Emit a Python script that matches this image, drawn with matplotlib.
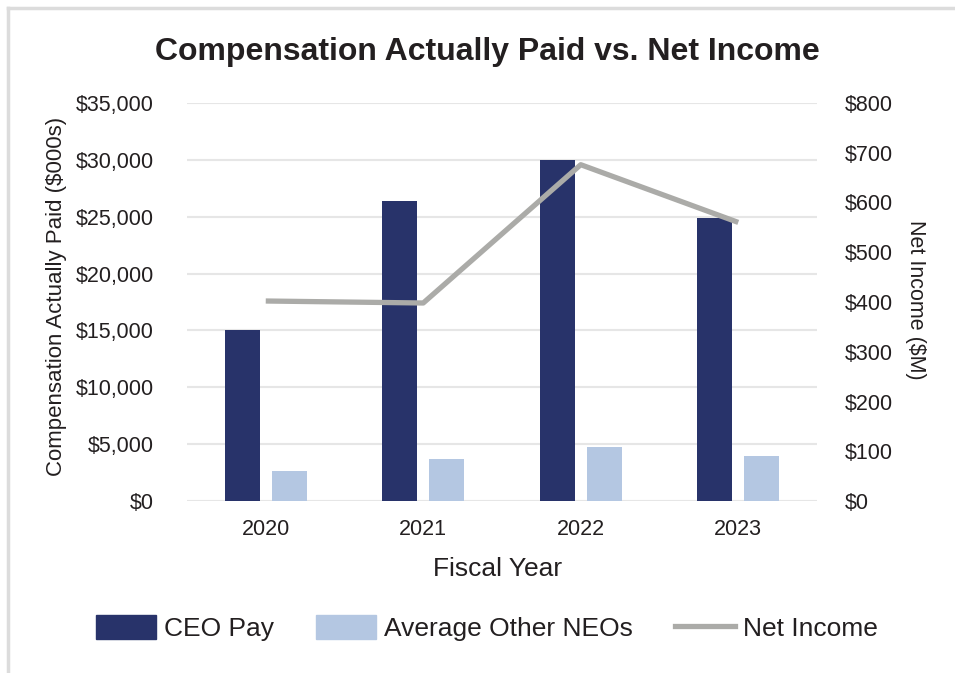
import numpy as np
import matplotlib.pyplot as plt
from matplotlib.patches import Rectangle
from matplotlib.lines import Line2D
from matplotlib.ticker import FuncFormatter

plt.rcParams['font.family'] = ['Liberation Sans', 'DejaVu Sans']

# Data
years = ["2020", "2021", "2022", "2023"]
ceo_pay = [15000, 26400, 30000, 24850]        # $000s
other_neos = [2650, 3650, 4750, 4000]         # $000s
net_income = [402, 398, 676, 560]             # $M

dark = "#28336A"
light = "#B4C7E2"
grey = "#ABABA8"
txt = "#231F20"

W, H = 955, 673
fig = plt.figure(figsize=(W / 100, H / 100), dpi=100)

# light grey frame (top and left edges only)
fig.add_artist(Line2D([8 / W, 8 / W], [0, 1 - 8 / H], transform=fig.transFigure,
                      color="#DCDCDC", linewidth=2.5))
fig.add_artist(Line2D([8 / W, 1], [1 - 8 / H, 1 - 8 / H], transform=fig.transFigure,
                      color="#DCDCDC", linewidth=2.5))

ax = fig.add_axes([187 / W, 1 - 501 / H, 630 / W, 398 / H])
x = np.arange(len(years))
w = 0.222
ax.bar(x - 0.149, ceo_pay, w, color=dark, zorder=3)
ax.bar(x + 0.149, other_neos, w, color=light, zorder=3)
ax.set_xlim(-0.5, 3.5)
ax.set_ylim(0, 35000)
ax.set_yticks(np.arange(0, 35001, 5000))
ax.yaxis.set_major_formatter(FuncFormatter(lambda v, p: "${:,.0f}".format(v)))
ax.set_xticks(x)
ax.set_xticklabels(years)
ax.grid(axis="y", color="#E6E6E6", linewidth=1.5, zorder=0)
for s in ax.spines.values():
    s.set_visible(False)
ax.tick_params(length=0, labelsize=15.5, colors=txt)
ax.tick_params(axis="y", pad=24)
ax.tick_params(axis="x", pad=13)

ax2 = ax.twinx()
ax2.plot(x, net_income, color=grey, linewidth=3.8, zorder=4, solid_capstyle="butt")
ax2.set_ylim(0, 800)
ax2.set_yticks(np.arange(0, 801, 100))
ax2.yaxis.set_major_formatter(FuncFormatter(lambda v, p: "${:,.0f}".format(v)))
for s in ax2.spines.values():
    s.set_visible(False)
ax2.tick_params(length=0, labelsize=15.5, colors=txt, pad=20)

fig.text(487 / W, 1 - 60 / H, "Compensation Actually Paid vs. Net Income", fontsize=23,
         fontweight="bold", color=txt, ha="center", va="baseline")
fig.text(62 / W, 1 - 296 / H, "Compensation Actually Paid ($000s)", fontsize=16,
         color=txt, rotation=90, rotation_mode="anchor", ha="center", va="baseline")
fig.text(910 / W, 1 - 300 / H, "Net Income ($M)", fontsize=15.5, color=txt,
         rotation=270, rotation_mode="anchor", ha="center", va="baseline")
fig.text(498 / W, 1 - 576 / H, "Fiscal Year", fontsize=19, color=txt,
         ha="center", va="baseline")

handles = [Rectangle((0, 0), 1, 1, color=dark), Rectangle((0, 0), 1, 1, color=light),
           Line2D([0], [0], color=grey, linewidth=3.8)]
leg = fig.legend(handles, ["CEO Pay", "Average Other NEOs", "Net Income"], loc="center",
                 bbox_to_anchor=(487 / W, 1 - 628 / H), ncol=3, frameon=False, fontsize=19,
                 handlelength=2.27, handleheight=1.0, handletextpad=0.3, columnspacing=1.6)
for t in leg.get_texts():
    t.set_color(txt)

fig.savefig("out.png", dpi=100)
